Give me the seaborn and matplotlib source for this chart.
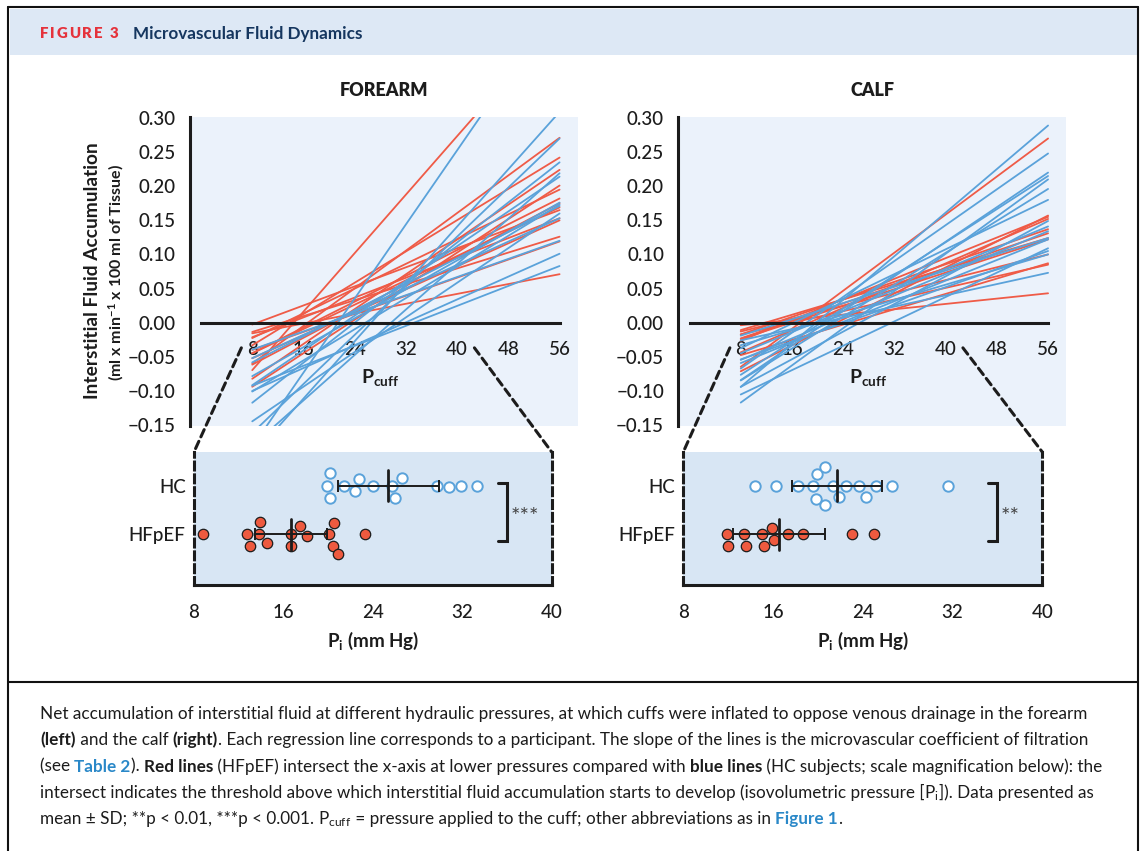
import matplotlib
matplotlib.use("Agg")
import matplotlib.pyplot as plt
import numpy as np
import pandas as pd
import seaborn as sns
from matplotlib.patches import Rectangle, ConnectionPatch
from matplotlib.lines import Line2D
from matplotlib.ticker import MultipleLocator

# ---------------------------------------------------------------
# values
# Pi = isovolumetric pressure (x-intercept of each participant's line, mm Hg)
# end = fluid accumulation at Pcuff = 56 mm Hg (same order as Pi)
# ---------------------------------------------------------------
forearm_hc_pi = [19.9, 20.2, 20.2, 21.4, 22.4, 22.8, 24.0, 25.7, 26.0, 26.6, 29.7, 30.8, 31.9, 33.3]
forearm_hc_end = [0.120, 0.153, 0.171, 0.470, 0.214, 0.176, 0.235, 0.173, 0.270, 0.309, 0.219, 0.160, 0.101, 0.083]
forearm_hf_pi = [8.8, 12.7, 13.0, 13.8, 13.9, 14.5, 16.7, 16.7, 17.5, 18.1, 20.1, 20.4, 20.5, 20.9, 23.3]
forearm_hf_end = [0.165, 0.126, 0.195, 0.242, 0.153, 0.445, 0.071, 0.271, 0.182, 0.169, 0.119, 0.150, 0.175, 0.224, 0.201]

calf_hc_pi = [14.4, 16.3, 18.25, 19.6, 19.8, 19.95, 20.6, 20.6, 21.3, 21.9, 22.5, 23.7, 24.3, 25.2, 26.6, 31.6]
calf_hc_end = [0.124, 0.180, 0.248, 0.141, 0.289, 0.100, 0.215, 0.073, 0.220, 0.134, 0.196, 0.122, 0.105, 0.210, 0.149, 0.109]
calf_hf_pi = [11.9, 11.95, 13.4, 13.55, 15.0, 15.2, 15.9, 16.1, 17.3, 18.7, 23.0, 25.0]
calf_hf_end = [0.124, 0.043, 0.137, 0.100, 0.155, 0.131, 0.122, 0.085, 0.270, 0.152, 0.157, 0.087]

# mean +- SD bars as drawn (HC, HFpEF)
forearm_mean = [25.4, 16.7]
forearm_sd = [4.55, 3.2]
calf_mean = [21.7, 16.5]
calf_sd = [4.05, 4.1]

groups = ["HC", "HFpEF"]
stars = {"forearm": "***", "calf": "**"}
pcuff_range = [8, 56]
pcuff_ticks = [0, 8, 16, 24, 32, 40, 48, 56]
fluid_ticks = [-0.15, -0.10, -0.05, 0.0, 0.05, 0.10, 0.15, 0.20, 0.25, 0.30]
pi_ticks = [8, 16, 24, 32, 40]

caption = [
    [("Net accumulation of interstitial fluid at different hydraulic pressures, at which cuffs were inflated to oppose venous drainage in the forearm", "r")],
    [("(left)", "b"), (" and the calf ", "r"), ("(right)", "b"),
     (". Each regression line corresponds to a participant. The slope of the lines is the microvascular coefficient of filtration", "r")],
    [("(see ", "r"), ("Table 2", "l"), ("). ", "r"), ("Red lines", "b"),
     (" (HFpEF) intersect the x-axis at lower pressures compared with ", "r"), ("blue lines", "b"),
     (" (HC subjects; scale magnification below): the", "r")],
    [("intersect indicates the threshold above which interstitial fluid accumulation starts to develop (isovolumetric pressure [", "r"),
     (r"$\mathrm{P_i}$", "r"), ("]). Data presented as", "r")],
    [("mean \u00b1 SD; **p < 0.01, ***p < 0.001. ", "r"), (r"$\mathrm{P_{cuff}}$", "r"),
     (" = pressure applied to the cuff; other abbreviations as in ", "r"), ("Figure 1", "l"), (".", "r")],
]

RED = "#EF5B47"
BLUE = "#5AA2DA"
RED_DOT = "#EE5A3F"
INK = "#1c1c1c"
TOP_BG = "#EBF2FB"
BOT_BG = "#D8E6F4"
HEAD_BG = "#DDE8F5"
NAVY = "#15365F"
LINK = "#2A88C8"
DASH = (0, (2.6, 1.6))

sns.set_style("white")
plt.rcParams["font.family"] = ["Lato", "DejaVu Sans"]
plt.rcParams["mathtext.fontset"] = "custom"
plt.rcParams["mathtext.rm"] = "Lato"
plt.rcParams["mathtext.bf"] = "Lato:bold"
plt.rcParams["mathtext.it"] = "Lato:italic"

W, H = 1142, 851
fig = plt.figure(figsize=(W / 100, H / 100), dpi=100)
renderer = fig.canvas.get_renderer()


def px_box(x0, y0, x1, y1):
    # pixel box (top-left origin) -> figure fraction rect
    return [x0 / W, 1 - y1 / H, (x1 - x0) / W, (y1 - y0) / H]


def line_frame(hc_pi, hc_end, hf_pi, hf_end):
    rows = []
    for grp, pis, ends in (("HC", hc_pi, hc_end), ("HFpEF", hf_pi, hf_end)):
        for i, (pi, end) in enumerate(zip(pis, ends)):
            slope = end / (pcuff_range[1] - pi)
            for p in pcuff_range:
                rows.append({"id": f"{grp}{i}", "group": grp, "pcuff": p,
                             "fluid": slope * (p - pi)})
    return pd.DataFrame(rows)


def style_ticklabels(ax):
    for lab in ax.get_xticklabels() + ax.get_yticklabels():
        lab.set_fontweight("medium")


def draw_top(ax, lines, title):
    ax.set_facecolor(TOP_BG)
    # red lines first so the blue ones sit on top, as in the original
    sns.lineplot(data=lines, x="pcuff", y="fluid", hue="group", units="id",
                 estimator=None, palette={"HC": BLUE, "HFpEF": RED},
                 hue_order=["HFpEF", "HC"], lw=1.3, legend=False, sort=False, ax=ax)
    ax.set_xlim(-1.8, 58.8)
    ax.set_ylim(-0.1516, 0.3015)
    ax.spines[["top", "right"]].set_visible(False)
    ax.spines["bottom"].set_position(("data", 0))
    ax.spines["bottom"].set_bounds(0, 56)
    for s in ("left", "bottom"):
        ax.spines[s].set_linewidth(2.2)
        ax.spines[s].set_color(INK)
    ax.set_xticks(pcuff_ticks)
    ax.set_xticklabels([""] + [str(t) for t in pcuff_ticks[1:]])
    ax.set_yticks(fluid_ticks)
    ax.set_yticklabels([f"{v:.2f}".replace("-", "\u2212") for v in fluid_ticks])
    ax.tick_params(axis="both", direction="out", length=5, width=2.2,
                   labelsize=13.5, color=INK, labelcolor=INK)
    ax.tick_params(axis="x", pad=8)
    ax.tick_params(axis="y", pad=5)
    style_ticklabels(ax)
    ax.set_xlabel("")
    ax.set_ylabel("")
    ax.text(27.9, -0.081, r"$\mathbf{P_{cuff}}$", ha="center", va="center",
            fontsize=14, color=INK)
    ax.set_title(title, fontsize=13, fontweight="heavy", pad=15, color=INK)


def draw_bottom(ax, hc_pi, hf_pi, mean, sd, mark):
    ax.set_facecolor(BOT_BG)
    pts = pd.DataFrame({"group": ["HC"] * len(hc_pi) + ["HFpEF"] * len(hf_pi),
                        "pi": hc_pi + hf_pi})
    sns.swarmplot(data=pts[pts.group == "HC"], x="pi", y="group", order=groups,
                  color="white", edgecolor=BLUE, linewidth=1.4, size=7.5, ax=ax)
    sns.swarmplot(data=pts[pts.group == "HFpEF"], x="pi", y="group", order=groups,
                  color=RED_DOT, edgecolor=INK, linewidth=0.9, size=7.5, ax=ax)
    pos = [0, 1]
    ax.errorbar(mean, pos, xerr=sd, fmt="none", ecolor=INK, elinewidth=1.4,
                capsize=4.5, capthick=1.4, zorder=5)
    for m, p in zip(mean, pos):
        ax.plot([m, m], [p - 0.32, p + 0.32], color=INK, lw=2, zorder=5)
    # significance bracket
    ax.plot([35.2, 36.0, 36.0, 35.2], [-0.06, -0.06, 1.14, 1.14], color=INK,
            lw=2.2, solid_joinstyle="miter", zorder=5)
    ax.text(36.3, 0.64, mark, fontsize=16, color="#444444", va="center", ha="left")
    ax.set_xlim(8, 40)
    ax.set_ylim(2.05, -0.70)
    ax.set_xticks(pi_ticks)
    ax.xaxis.set_minor_locator(MultipleLocator(2))
    ax.tick_params(axis="x", which="major", direction="out", length=6, width=2,
                   labelsize=13.5, pad=8, color=INK, labelcolor=INK)
    ax.tick_params(axis="x", which="minor", direction="out", length=3.5, width=1.5,
                   color=INK)
    ax.tick_params(axis="y", length=0, pad=6, labelsize=13.5, labelcolor=INK)
    style_ticklabels(ax)
    ax.set_ylabel("")
    ax.set_xlabel(r"$\mathbf{P_i}$ (mm Hg)", fontsize=13.5, fontweight="bold",
                  labelpad=6, color=INK)
    ax.spines["top"].set_visible(False)
    for s in ("left", "right"):
        ax.spines[s].set_visible(True)
        ax.spines[s].set_linestyle(DASH)
        ax.spines[s].set_linewidth(2.2)
        ax.spines[s].set_color(INK)
    ax.spines["bottom"].set_linewidth(2.2)
    ax.spines["bottom"].set_color(INK)


def text_width(s, size, weight):
    t = fig.text(0, 0, s, fontsize=size, fontweight=weight)
    w = t.get_window_extent(renderer).width
    t.remove()
    return w


def put_runs(x, y, runs, size, track=0.0):
    # runs: (text, weight, color); x, y in pixels, y is the baseline
    for txt, weight, color in runs:
        fig.text(x / W, 1 - y / H, txt, fontsize=size, fontweight=weight,
                 color=color, ha="left", va="baseline")
        adv = text_width("|" + txt + "|", size, weight) - text_width("||", size, weight)
        x += adv + track


# --- frame and header --------------------------------------------------
fig.add_artist(Rectangle((10 / W, 1 - 55 / H), 1127 / W, 46 / H,
                         transform=fig.transFigure, facecolor=HEAD_BG,
                         edgecolor="none", zorder=0))
for xs, ys in (([8, 8], [7, H]), ([8, 1138], [7, 7]), ([1138, 1138], [7, H]),
               ([8, 1138], [682, 682])):
    fig.add_artist(Line2D([x / W for x in xs], [1 - y / H for y in ys],
                          transform=fig.transFigure, color="#111111", lw=1.5))

put_runs(40, 38.5, [(c, "heavy", "#E5323B") for c in "FIGURE 3"], 10.8, track=1.9)
put_runs(133, 38.5, [("Microvascular Fluid Dynamics", "bold", NAVY)], 12.3)

# --- panels -------------------------------------------------------------
ax_fa = fig.add_axes(px_box(189.5, 117, 577.5, 426))
ax_ca = fig.add_axes(px_box(678, 117, 1066, 426))
ax_fb = fig.add_axes(px_box(194, 452, 551.7, 585))
ax_cb = fig.add_axes(px_box(683.3, 452, 1042.3, 585))

draw_top(ax_fa, line_frame(forearm_hc_pi, forearm_hc_end, forearm_hf_pi, forearm_hf_end), "FOREARM")
draw_top(ax_ca, line_frame(calf_hc_pi, calf_hc_end, calf_hf_pi, calf_hf_end), "CALF")
draw_bottom(ax_fb, forearm_hc_pi, forearm_hf_pi, forearm_mean, forearm_sd, stars["forearm"])
draw_bottom(ax_cb, calf_hc_pi, calf_hf_pi, calf_mean, calf_sd, stars["calf"])

# magnification connectors
for top, bot in ((ax_fa, ax_fb), (ax_ca, ax_cb)):
    for xa, xb in ((6.3, 0), (42.7, 1)):
        fig.add_artist(ConnectionPatch(xyA=(xa, -0.037), coordsA=top.transData,
                                       xyB=(xb, 1), coordsB=bot.transAxes,
                                       color=INK, lw=2.2, linestyle=DASH))

fig.text(92 / W, 1 - 271 / H, "Interstitial Fluid Accumulation", rotation=90,
         ha="center", va="center", fontsize=13.8, fontweight="bold", color=INK)
fig.text(116 / W, 1 - 272 / H, r"(ml x min$^{\mathbf{-1}}$ x 100 ml of Tissue)",
         rotation=90, ha="center", va="center", fontsize=11.5, fontweight="bold",
         color=INK)

# --- caption ------------------------------------------------------------
styles = {"r": ("normal", INK), "b": ("bold", INK), "l": ("bold", LINK)}
for k, line in enumerate(caption):
    put_runs(40, 719 + 26.3 * k, [(t, *styles[s]) for t, s in line], 12.3)

fig.savefig("out.png", dpi=100)
